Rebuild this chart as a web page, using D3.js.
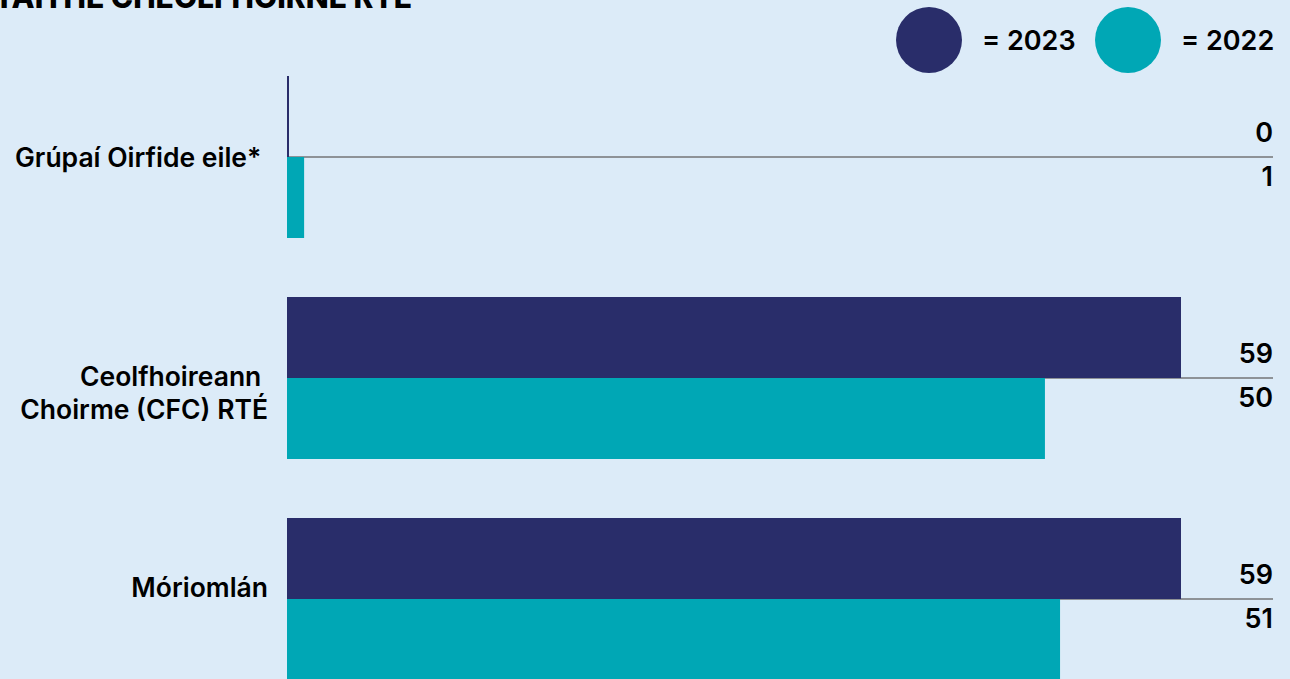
<!DOCTYPE html>
<html>
<head>
<meta charset="utf-8">
<script src="https://cdn.jsdelivr.net/npm/d3@7"></script>
<style>
  html, body { margin: 0; padding: 0; background: #dcebf8; overflow: hidden; }
  text { font-family: Inter, "Liberation Sans", sans-serif; }
</style>
</head>
<body>
<div id="chart"></div>
<script>
// Data
const categories = ["Grúpaí Oirfide eile*", "Ceolfhoireann Choirme (CFC) RTÉ", "Móriomlán"];
const labelLines = [["Grúpaí Oirfide eile* "], ["Ceolfhoireann ", "Choirme (CFC) RTÉ"], ["Móriomlán"]];
const years = ["2023", "2022"];
const values2023 = [0, 59, 59];
const values2022 = [1, 50, 51];
const titleText = "LÍON FOSTAITHE CHEOLFHOIRNE RTÉ";

const width = 1290, height = 679;
const colors = { "2023": "#292d6a", "2022": "#00a7b5" };

const svg = d3.select("#chart")
  .append("svg")
  .attr("width", width)
  .attr("height", height);

svg.append("rect")
  .attr("width", width)
  .attr("height", height)
  .attr("fill", "#dcebf8");

// Title (cut off at the top in the original)
svg.append("text")
  .attr("x", 412)
  .attr("y", 8)
  .attr("text-anchor", "end")
  .style("font-size", "30px")
  .style("font-weight", "800")
  .style("fill", "#000")
  .text(titleText);

// Legend
const legend = svg.append("g");
const legendX = [929, 1128];
years.forEach((yr, i) => {
  legend.append("circle")
    .attr("cx", legendX[i])
    .attr("cy", 40)
    .attr("r", 33)
    .attr("fill", colors[yr]);
  legend.append("text")
    .attr("x", legendX[i] + 53)
    .attr("y", 50)
    .style("font-size", "27px")
    .style("font-weight", "600")
    .style("fill", "#000")
    .text("= " + yr);
});

// Scales
const x = d3.scaleLinear()
  .domain([0, 59])
  .range([288, 1180]);

const y = d3.scaleBand()
  .domain(categories)
  .range([76, 680])
  .paddingInner(0.267);

const ySub = d3.scaleBand()
  .domain(years)
  .range([0, y.bandwidth()]);

const rows = categories.map((c, i) => ({
  category: c,
  lines: labelLines[i],
  "2023": values2023[i],
  "2022": values2022[i]
}));

// small vertical nudges for the category labels, as in the original layout
const labelShift = [10, 8, -2];

const groups = svg.selectAll("g.group")
  .data(rows)
  .join("g")
  .attr("class", "group")
  .attr("transform", d => `translate(0, ${y(d.category)})`);

// separator line between the two years
groups.append("line")
  .attr("x1", x(0))
  .attr("x2", 1273)
  .attr("y1", y.bandwidth() / 2)
  .attr("y2", y.bandwidth() / 2)
  .attr("stroke", "#8e9297")
  .attr("stroke-width", 2);

// bars (a zero value still shows as a thin line)
groups.selectAll("rect")
  .data(d => years.map(yr => ({ year: yr, value: d[yr] })))
  .join("rect")
  .attr("x", x(0) - 1)
  .attr("y", d => ySub(d.year))
  .attr("width", d => Math.max(x(d.value) - x(0), 0) + 2)
  .attr("height", ySub.bandwidth())
  .attr("fill", d => colors[d.year]);

// value labels
groups.append("text")
  .attr("x", 1273)
  .attr("y", y.bandwidth() / 2 - 15)
  .attr("text-anchor", "end")
  .style("font-size", "27px")
  .style("font-weight", "600")
  .style("fill", "#000")
  .text(d => d["2023"]);

groups.append("text")
  .attr("x", 1273)
  .attr("y", y.bandwidth() / 2 + 29)
  .attr("text-anchor", "end")
  .style("font-size", "27px")
  .style("font-weight", "600")
  .style("fill", "#000")
  .text(d => d["2022"]);

// category labels
groups.each(function(d, i) {
  const t = d3.select(this).append("text")
    .attr("text-anchor", "end")
    .style("font-size", "26.5px")
    .style("font-weight", "600")
    .style("fill", "#000")
    .style("white-space", "pre");
  d.lines.forEach((line, j) => {
    t.append("tspan")
      .attr("x", 268)
      .attr("y", y.bandwidth() / 2 + labelShift[i] + j * 33)
      .text(line);
  });
});
</script>
</body>
</html>
